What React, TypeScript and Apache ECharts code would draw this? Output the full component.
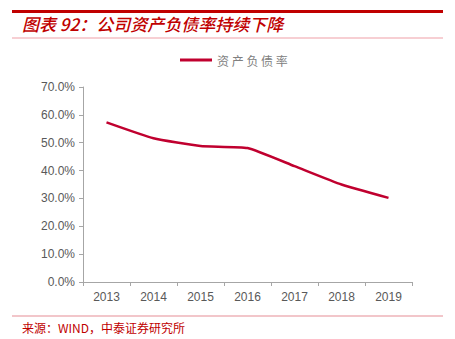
import React, { useEffect, useRef } from "react";
import * as echarts from "echarts";

const categories = ["2013", "2014", "2015", "2016", "2017", "2018", "2019"];
const debtRatio = [57.3, 51.6, 48.8, 48.1, 41.6, 35.0, 30.2];
const seriesName = "资产负债率";
const titleText = "图表 92：公司资产负债率持续下降";
const sourceText = "来源：WIND，中泰证券研究所";

export default function App() {
  const ref = useRef<HTMLDivElement>(null);
  useEffect(() => {
    if (!ref.current) return;
    const chart = echarts.init(ref.current, null, { renderer: "svg" });
    chart.setOption({
      animation: false,
      backgroundColor: "#ffffff",
      textStyle: { fontFamily: "Liberation Sans, Arial, sans-serif" },
      graphic: [
        { type: "rect", shape: { x: 12, y: 10, width: 431, height: 3 }, style: { fill: "#C00000" } },
        {
          type: "text",
          x: 22,
          y: 15,
          style: {
            text: titleText,
            fill: "#C00000",
            font: "italic 500 17px 'Noto Sans CJK SC', sans-serif",
          },
        },
        { type: "rect", shape: { x: 12, y: 37.5, width: 431, height: 1 }, style: { fill: "#F0A0A8" } },
        { type: "rect", shape: { x: 12, y: 315, width: 431, height: 2 }, style: { fill: "#F2C6CA" } },
        {
          type: "text",
          x: 22,
          y: 321,
          style: {
            text: sourceText,
            fill: "#C00000",
            font: "12px 'Noto Sans CJK SC', sans-serif",
          },
        },
      ],
      legend: {
        top: 49,
        left: 175,
        itemWidth: 32,
        itemHeight: 3,
        icon: "rect",
        itemGap: 5,
        textStyle: { color: "#808080", fontSize: 12, fontFamily: "'Noto Sans CJK SC', sans-serif" },
        formatter: (n: string) => n.split("").join(" "),
        data: [seriesName],
      },
      grid: { left: 83, right: 43, top: 87, bottom: 57 },
      xAxis: {
        type: "category",
        data: categories,
        boundaryGap: true,
        axisLine: { lineStyle: { color: "#A6A6A6" } },
        axisTick: { show: true, alignWithLabel: false, lineStyle: { color: "#A6A6A6" }, length: 4 },
        axisLabel: { color: "#595959", fontSize: 12, margin: 9 },
      },
      yAxis: {
        type: "value",
        min: 0,
        max: 70,
        interval: 10,
        axisLine: { show: true, lineStyle: { color: "#A6A6A6" } },
        axisTick: { show: true, lineStyle: { color: "#A6A6A6" }, length: 4 },
        splitLine: { show: false },
        axisLabel: { color: "#595959", fontSize: 12, margin: 8, formatter: (v: number) => v.toFixed(1) + "%" },
      },
      series: [
        {
          name: seriesName,
          type: "line",
          data: debtRatio,
          smooth: 0.15,
          symbol: "none",
          lineStyle: { color: "#C0002F", width: 2.5 },
          itemStyle: { color: "#C0002F" },
        },
      ],
    });
    return () => chart.dispose();
  }, []);
  return <div ref={ref} style={{ width: 455, height: 339, position: "absolute", left: 0, top: 0 }} />;
}
